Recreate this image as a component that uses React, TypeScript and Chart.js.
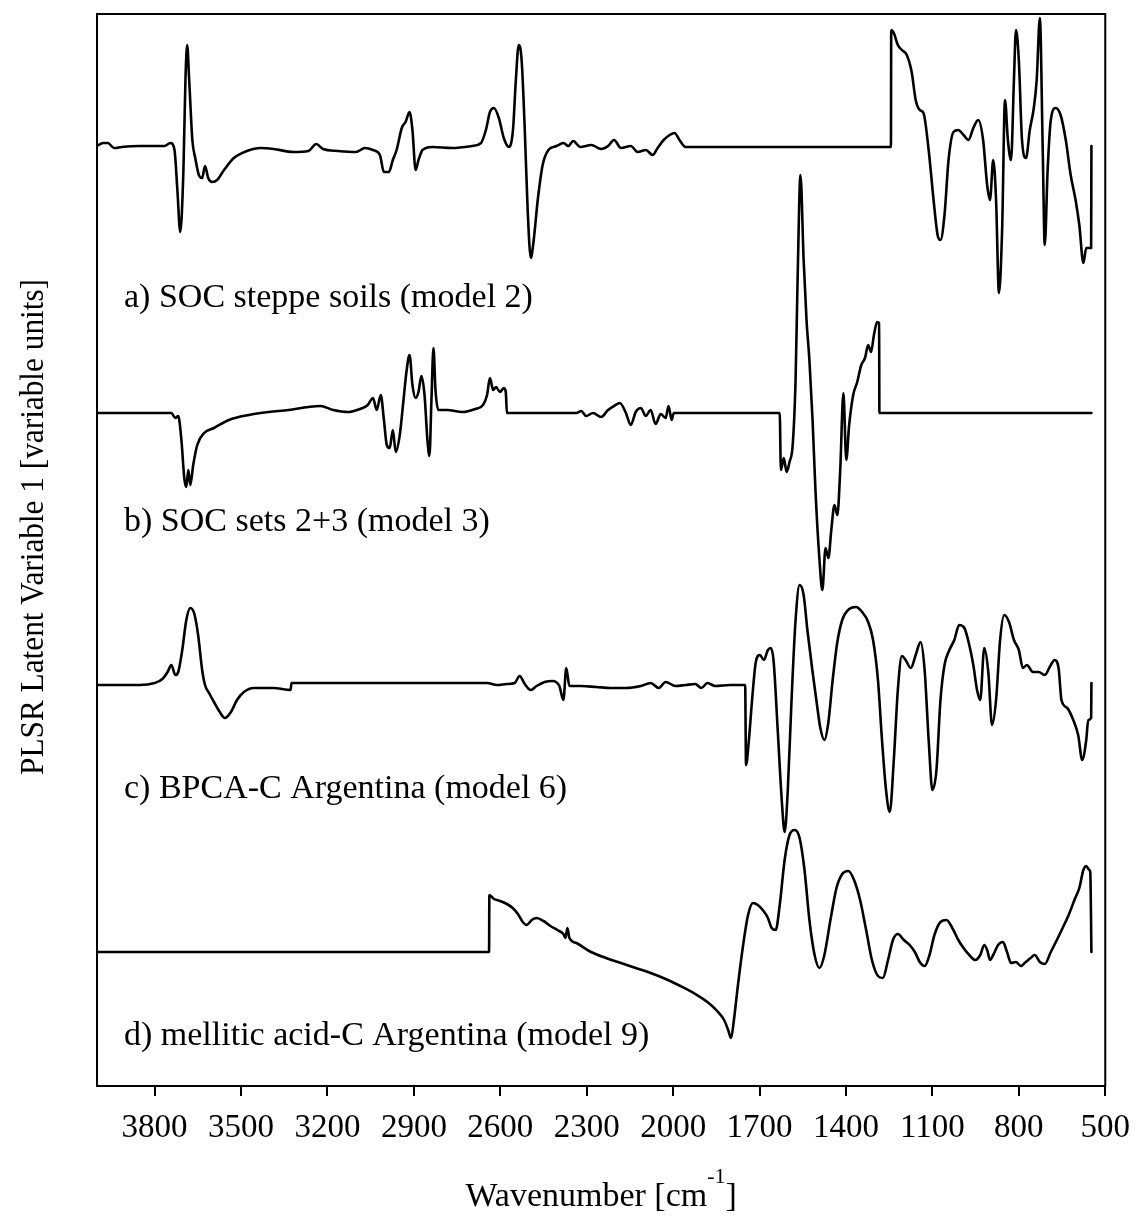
import React, { useEffect, useRef } from "react";
import { Chart, registerables } from "chart.js";

Chart.register(...registerables);

// ---- Data (wavenumber [cm-1], latent variable value [arbitrary units, relative to each panel's baseline]) ----
const seriesA_SOCsteppe: [number, number][] = [
  [4000, 0], [3979, 3], [3962, 3], [3941, -2], [3914, -1], [3852, 0], [3766, 0], [3745, 3], [3731, -4],
  [3721, -44], [3711, -86], [3700, -24], [3693, 66], [3687, 101], [3680, 66], [3669, 6], [3659, -12],
  [3645, -30], [3635, -32], [3625, -20], [3614, -32], [3600, -36], [3583, -34], [3559, -24], [3525, -12],
  [3480, -5], [3432, -2], [3387, -3], [3318, -6], [3266, -5], [3239, 2], [3215, -3], [3163, -5], [3101, -6],
  [3070, -2], [3042, -4], [3018, -9], [3004, -26], [2987, -26], [2973, -14], [2960, -4], [2942, 18],
  [2929, 24], [2915, 34], [2905, 16], [2894, -24], [2884, -14], [2870, -4], [2836, -1], [2767, -2],
  [2698, 0], [2667, 3], [2650, 16], [2636, 34], [2622, 38], [2605, 28], [2588, 8], [2570, -1], [2556, 16],
  [2546, 66], [2536, 101], [2526, 86], [2515, 16], [2505, -64], [2494, -112], [2484, -94], [2470, -54],
  [2453, -19], [2433, -4], [2405, 0], [2381, 3], [2364, 0], [2347, 5], [2322, -1], [2284, 1], [2250, -3],
  [2226, 0], [2205, 6], [2181, -2], [2147, 0], [2123, -6], [2095, -4], [2071, -9], [2054, -2], [2033, 6],
  [2012, 11], [1995, 13], [1978, 6], [1957, -1], [1940, -1], [1244, -1], [1243, 116], [1234, 113],
  [1220, 101], [1206, 96], [1189, 91], [1172, 74], [1158, 46], [1144, 36], [1131, 33], [1113, -4],
  [1096, -54], [1082, -89], [1072, -94], [1058, -69], [1044, -14], [1027, 14], [1010, 16], [992, 11],
  [975, 6], [958, 18], [941, 26], [924, 6], [910, -39], [900, -54], [889, -14], [879, -54], [869, -147],
  [858, -84], [848, 46], [838, 6], [827, -14], [817, 66], [810, 116], [800, 86], [789, 6], [775, -12],
  [762, 16], [748, 38], [738, 66], [727, 128], [717, -4], [710, -99], [700, -24], [689, 26], [672, 38],
  [655, 31], [637, 6], [620, -29], [603, -54], [590, -79], [576, -117], [566, -102], [552, -102],
  [549, -102], [548, 0],
];

const seriesB_SOCsets: [number, number][] = [
  [4000, 0], [3742, 0], [3728, -5], [3718, -3], [3707, -27], [3697, -65], [3690, -74], [3683, -57],
  [3676, -72], [3666, -52], [3652, -32], [3628, -20], [3594, -15], [3542, -7], [3473, -2], [3404, 1],
  [3335, 3], [3266, 6], [3225, 7], [3180, 3], [3128, 1], [3087, 4], [3060, 8], [3042, 15], [3029, 3],
  [3015, 18], [3004, -7], [2994, -32], [2984, -35], [2973, -17], [2963, -39], [2949, -22], [2936, 13],
  [2925, 43], [2915, 58], [2905, 28], [2894, 15], [2884, 21], [2874, 37], [2863, 18], [2853, -27],
  [2846, -43], [2839, 13], [2832, 65], [2825, 23], [2815, 3], [2784, 3], [2732, 1], [2687, 4], [2660, 8],
  [2646, 18], [2636, 35], [2625, 23], [2615, 26], [2601, 21], [2588, 25], [2581, 21], [2577, 0],
  [2336, 0], [2319, 2], [2302, -3], [2278, 0], [2250, -4], [2226, 3], [2205, 7], [2185, 10], [2164, 0],
  [2147, -12], [2130, 1], [2112, 5], [2095, -3], [2078, 3], [2061, -11], [2043, -1], [2026, -5],
  [2016, 7], [2005, -7], [1998, 0], [1630, 0], [1626, -57], [1616, -45], [1606, -59], [1596, -49],
  [1585, -32], [1575, 33], [1568, 133], [1558, 238], [1547, 153], [1537, 93], [1527, 53], [1516, -7],
  [1506, -77], [1492, -147], [1482, -177], [1471, -135], [1461, -145], [1451, -117], [1440, -92],
  [1430, -102], [1420, -57], [1409, 20], [1399, -47], [1389, -12], [1375, 18], [1361, 31], [1347, 48],
  [1334, 55], [1323, 68], [1313, 61], [1303, 78], [1292, 91], [1285, 90], [1284, 0], [548, 0],
];

const seriesC_BPCA: [number, number][] = [
  [4000, 0], [3852, 0], [3800, 2], [3773, 6], [3755, 13], [3742, 20], [3728, 10], [3718, 13], [3704, 35],
  [3690, 65], [3676, 77], [3662, 71], [3649, 50], [3635, 15], [3625, 0], [3611, -8], [3594, -17],
  [3576, -26], [3556, -33], [3535, -27], [3514, -15], [3490, -7], [3456, -3], [3387, -3], [3328, -5],
  [3325, 2], [2646, 2], [2612, 0], [2577, 1], [2550, 2], [2533, 9], [2515, 1], [2494, -5], [2474, -1],
  [2446, 3], [2419, 4], [2395, -1], [2381, -15], [2371, 17], [2360, -1], [2319, -1], [2267, -2],
  [2216, -3], [2164, -3], [2112, -1], [2078, 2], [2050, -3], [2026, 3], [1992, -1], [1957, 0], [1923, 1],
  [1902, -3], [1881, 2], [1854, -1], [1802, 0], [1750, 0], [1747, -80], [1737, -55], [1726, -15],
  [1713, 23], [1699, 30], [1685, 25], [1671, 35], [1661, 37], [1651, 23], [1637, -45], [1623, -115],
  [1613, -147], [1602, -105], [1589, -15], [1575, 65], [1561, 100], [1547, 90], [1534, 55], [1516, 13],
  [1502, -17], [1489, -43], [1475, -55], [1461, -37], [1447, 3], [1430, 43], [1413, 65], [1389, 76],
  [1365, 78], [1344, 73], [1323, 63], [1306, 45], [1289, 5], [1275, -55], [1261, -105], [1248, -127],
  [1234, -75], [1220, -5], [1206, 29], [1193, 25], [1175, 17], [1158, 30], [1141, 43], [1127, 15],
  [1113, -55], [1100, -105], [1086, -85], [1072, -15], [1058, 20], [1041, 35], [1024, 45], [1007, 60],
  [989, 57], [972, 40], [958, 20], [945, -5], [934, -15], [920, 37], [906, 13], [893, -40], [879, -15],
  [865, 45], [851, 70], [834, 63], [817, 45], [800, 35], [786, 17], [772, 20], [751, 13], [731, 13],
  [710, 10], [689, 20], [676, 25], [662, 17], [652, -15], [632, -23], [611, -35], [594, -50], [580, -75],
  [566, -55], [559, -35], [549, -33], [548, 2],
];

const seriesD_mellitic: [number, number][] = [
  [4000, 0], [2639, 0], [2638, 57], [2622, 53], [2601, 51], [2577, 48], [2557, 44], [2539, 38],
  [2522, 30], [2508, 27], [2491, 32], [2474, 34], [2450, 31], [2426, 26], [2402, 22], [2381, 18],
  [2374, 14], [2367, 24], [2360, 14], [2336, 9], [2285, 0], [2233, -6], [2181, -11], [2130, -16],
  [2078, -21], [2026, -27], [1975, -34], [1923, -42], [1881, -50], [1847, -59], [1823, -68], [1809, -78],
  [1799, -86], [1789, -68], [1775, -33], [1757, 7], [1740, 37], [1723, 49], [1706, 47], [1689, 42],
  [1671, 34], [1658, 24], [1644, 22], [1630, 47], [1613, 92], [1596, 117], [1578, 122], [1561, 114],
  [1544, 82], [1527, 32], [1509, -3], [1492, -16], [1475, -3], [1454, 32], [1433, 64], [1413, 78],
  [1392, 81], [1372, 72], [1351, 52], [1330, 22], [1310, -8], [1289, -24], [1272, -26], [1254, -8],
  [1237, 12], [1220, 18], [1199, 12], [1179, 7], [1161, 0], [1144, -10], [1127, -14], [1110, -3],
  [1093, 17], [1072, 30], [1051, 32], [1031, 24], [1010, 12], [992, 4], [972, -3], [951, -8], [934, -3],
  [920, 7], [910, 2], [900, -8], [889, -3], [872, 7], [855, 10], [841, 0], [827, -11], [810, -10],
  [793, -14], [776, -10], [759, -6], [745, -3], [727, -10], [710, -12], [689, 0], [668, 12], [648, 24],
  [627, 37], [607, 52], [590, 64], [576, 82], [566, 86], [555, 82], [552, 80], [548, 0],
];

const allSeries = [seriesA_SOCsteppe, seriesB_SOCsets, seriesC_BPCA, seriesD_mellitic];
// vertical offset of each panel's baseline (same arbitrary units as the values)
const seriesOffsets = [940, 673, 401, 134];
const panelLabels = [
  "a) SOC steppe soils (model 2)",
  "b) SOC sets 2+3 (model 3)",
  "c) BPCA-C Argentina (model 6)",
  "d) mellitic acid-C Argentina (model 9)",
];
const xTickValues = [3800, 3500, 3200, 2900, 2600, 2300, 2000, 1700, 1400, 1100, 800, 500];
const xRange = [500, 4000];
const yRange = [0, 1072];
const yTitle = "PLSR Latent Variable 1 [variable units]";

const FONT = '"Liberation Serif", "Times New Roman", serif';

export default function App() {
  const canvasRef = useRef<HTMLCanvasElement | null>(null);

  useEffect(() => {
    document.body.style.margin = "0";
    const canvas = canvasRef.current;
    if (!canvas) return;

    const labelBaselines = [307, 531, 798, 1045];

    const overlay = {
      id: "overlay",
      afterDraw(chart: any) {
        const ctx = chart.ctx as CanvasRenderingContext2D;
        const { left, right, top, bottom } = chart.chartArea;
        ctx.save();
        ctx.strokeStyle = "#000";
        ctx.lineWidth = 2;
        ctx.strokeRect(left, top, right - left, bottom - top);

        ctx.fillStyle = "#000";
        ctx.textBaseline = "alphabetic";
        ctx.textAlign = "left";
        ctx.font = `34px ${FONT}`;
        panelLabels.forEach((t, i) => ctx.fillText(t, 124, labelBaselines[i]));

        // x title with superscript
        const main1 = "Wavenumber [cm";
        const sup = "-1";
        const main2 = "]";
        ctx.font = `34px ${FONT}`;
        const w1 = ctx.measureText(main1).width;
        const w3 = ctx.measureText(main2).width;
        ctx.font = `22px ${FONT}`;
        const w2 = ctx.measureText(sup).width;
        const total = w1 + w2 + w3;
        const cx = (left + right) / 2;
        let x = cx - total / 2;
        const by = 1206;
        ctx.font = `34px ${FONT}`;
        ctx.fillText(main1, x, by);
        x += w1;
        ctx.font = `22px ${FONT}`;
        ctx.fillText(sup, x, by - 23);
        x += w2;
        ctx.font = `34px ${FONT}`;
        ctx.fillText(main2, x, by);

        // y title (slightly condensed, as in the original)
        ctx.save();
        ctx.translate(43, 527);
        ctx.rotate(-Math.PI / 2);
        ctx.scale(0.92, 1);
        ctx.textAlign = "center";
        ctx.font = `34px ${FONT}`;
        ctx.fillText(yTitle, 0, 0);
        ctx.restore();

        ctx.restore();
      },
    };

    const chart = new Chart(canvas, {
      type: "line",
      data: {
        datasets: allSeries.map((s, i) => ({
          data: s.map(([w, v]) => ({ x: w, y: v + seriesOffsets[i] })),
          borderColor: "#000",
          borderWidth: 2.6,
          pointRadius: 0,
          cubicInterpolationMode: "monotone" as const,
          fill: false,
          borderJoinStyle: "round" as const,
          borderCapStyle: "round" as const,
        })),
      },
      options: {
        responsive: false,
        animation: false,
        devicePixelRatio: 1,
        events: [],
        layout: { padding: { left: 0, top: 14, right: 30, bottom: 0 } },
        plugins: { legend: { display: false }, tooltip: { enabled: false } },
        scales: {
          x: {
            type: "linear",
            reverse: true,
            min: xRange[0],
            max: xRange[1],
            afterBuildTicks: (axis: any) => {
              axis.ticks = xTickValues.map((v) => ({ value: v }));
            },
            afterFit: (axis: any) => {
              axis.height = 137;
            },
            ticks: {
              autoSkip: false,
              maxRotation: 0,
              minRotation: 0,
              padding: 13,
              color: "#000",
              font: { family: FONT, size: 33 },
              callback: (v: any) => String(v),
            },
            grid: {
              display: true,
              drawOnChartArea: false,
              drawTicks: true,
              tickLength: 10,
              color: "#000",
              lineWidth: 2,
            },
            border: { display: true, color: "#000", width: 2 },
          },
          y: {
            type: "linear",
            min: yRange[0],
            max: yRange[1],
            afterFit: (axis: any) => {
              axis.width = 97;
            },
            ticks: { display: false },
            grid: { display: false },
            border: { display: true, color: "#000", width: 2 },
          },
        },
      },
      plugins: [overlay],
    });

    return () => chart.destroy();
  }, []);

  return (
    <div style={{ width: 1143, height: 1223 }}>
      <canvas ref={canvasRef} width={1143} height={1223} style={{ display: "block" }} />
    </div>
  );
}
